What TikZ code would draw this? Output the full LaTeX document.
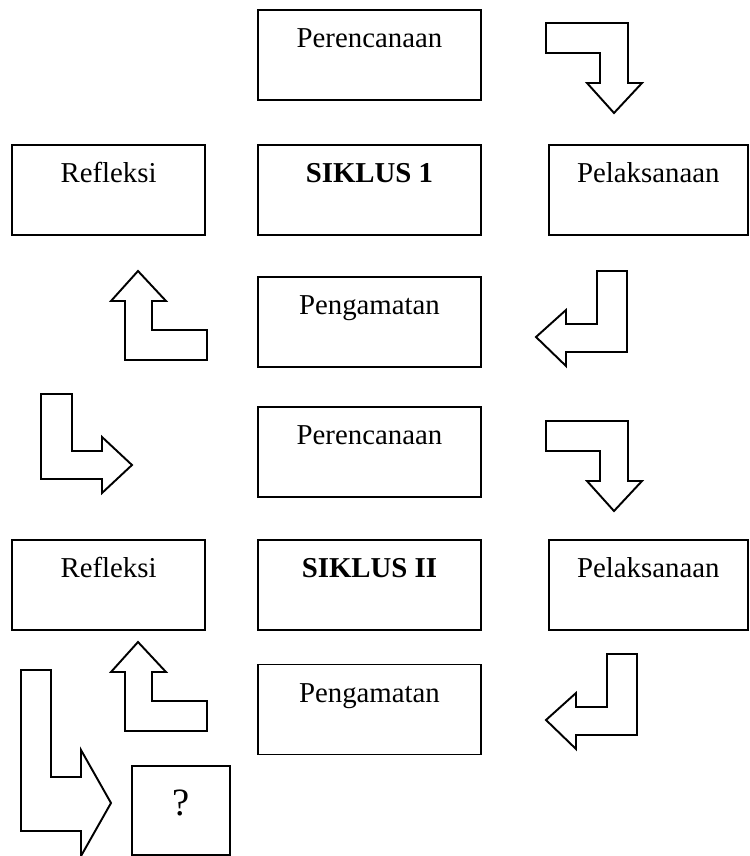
\documentclass[tikz,border=0pt]{standalone}
\usepackage{fontspec}
\setmainfont{Liberation Serif}
\usetikzlibrary{positioning}

\begin{document}
\begin{tikzpicture}[
  x=0.02cm,y=-0.02cm,
  siklusbox/.style={draw,line width=1.1pt,inner sep=0pt,text height=0.76cm,text depth=1.04cm,font=\fontsize{16.4}{20}\selectfont},
  midbox/.style={siklusbox,minimum width=4.46cm},
  leftbox/.style={siklusbox,minimum width=3.86cm},
  rightbox/.style={siklusbox,minimum width=3.98cm},
  tanyabox/.style={draw,line width=1.1pt,inner sep=0pt,minimum width=1.96cm,text height=1.0cm,text depth=0.78cm,font=\fontsize{22}{26}\selectfont},
  blockarr/.style={draw,line width=1.1pt,fill=white,line join=miter}
]
\useasboundingbox (0,0) rectangle (750,856);
\node[midbox,anchor=north west] (per1) at (257,9) {Perencanaan};
\node[midbox,below=0.86cm of per1] (sik1) {\textbf{SIKLUS 1}};
\node[leftbox,left=1.02cm of sik1] (ref1) {Refleksi};
\node[rightbox,right=1.32cm of sik1] (pel1) {Pelaksanaan};
\node[midbox,below=0.8cm of sik1] (pen1) {Pengamatan};
\node[midbox,below=0.76cm of pen1] (per2) {Perencanaan};
\node[midbox,below=0.82cm of per2] (sik2) {\textbf{SIKLUS II}};
\node[leftbox,left=1.02cm of sik2] (ref2) {Refleksi};
\node[rightbox,right=1.32cm of sik2] (pel2) {Pelaksanaan};
\node[midbox,below=0.66cm of sik2] (pen2) {Pengamatan};
\node[tanyabox,anchor=north west] (tanya) at (131,765) {?};

\draw[blockarr] (546,23) -- (628,23) -- (628,83) -- (642,83) -- (614,113) -- (587,83) -- (600,83) -- (600,53) -- (546,53) -- cycle;
\draw[blockarr,shift={(0,398)}] (546,23) -- (628,23) -- (628,83) -- (642,83) -- (614,113) -- (587,83) -- (600,83) -- (600,53) -- (546,53) -- cycle;
\draw[blockarr] (597,271) -- (627,271) -- (627,352) -- (566,352) -- (566,366) -- (536,337) -- (566,310) -- (566,324) -- (597,324) -- cycle;
\draw[blockarr,shift={(10,383)}] (597,271) -- (627,271) -- (627,352) -- (566,352) -- (566,366) -- (536,337) -- (566,310) -- (566,324) -- (597,324) -- cycle;
\draw[blockarr] (138,271) -- (166,301) -- (152,301) -- (152,330) -- (207,330) -- (207,360) -- (125,360) -- (125,301) -- (111,301) -- cycle;
\draw[blockarr,shift={(0,371)}] (138,271) -- (166,301) -- (152,301) -- (152,330) -- (207,330) -- (207,360) -- (125,360) -- (125,301) -- (111,301) -- cycle;
\draw[blockarr] (41,394) -- (72,394) -- (72,451) -- (102,451) -- (102,437) -- (132,465) -- (102,493) -- (102,479) -- (41,479) -- cycle;
\draw[blockarr] (21,670) -- (51,670) -- (51,777) -- (81,777) -- (81,750) -- (111,803) -- (81,856) -- (81,831) -- (21,831) -- cycle;
\end{tikzpicture}
\end{document}
